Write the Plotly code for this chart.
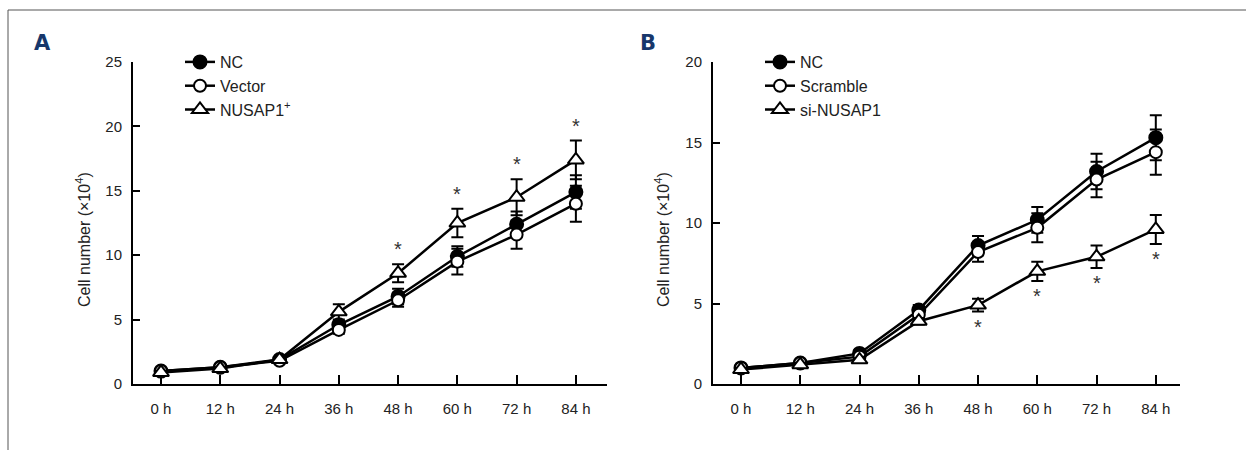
import plotly.graph_objects as go

hours = [0, 12, 24, 36, 48, 60, 72, 84]
tick_labels = ["0 h", "12 h", "24 h", "36 h", "48 h", "60 h", "72 h", "84 h"]

# Panel A
a_nc = [1.0, 1.3, 1.9, 4.6, 6.8, 9.9, 12.4, 14.9]
a_nc_err = [0.1, 0.1, 0.2, 0.3, 0.6, 0.8, 1.0, 1.3]
a_vec = [1.0, 1.3, 1.8, 4.2, 6.5, 9.5, 11.6, 14.0]
a_vec_err = [0.1, 0.1, 0.2, 0.3, 0.5, 1.0, 1.1, 1.4]
a_nus = [0.9, 1.2, 1.9, 5.6, 8.6, 12.5, 14.5, 17.4]
a_nus_err = [0.1, 0.1, 0.2, 0.6, 0.7, 1.1, 1.4, 1.5]
a_sig = [False, False, False, False, True, True, True, True]

# Panel B
b_nc = [1.0, 1.3, 1.9, 4.6, 8.6, 10.2, 13.2, 15.3]
b_nc_err = [0.1, 0.1, 0.2, 0.3, 0.6, 0.8, 1.1, 1.4]
b_scr = [1.0, 1.3, 1.7, 4.3, 8.2, 9.7, 12.7, 14.4]
b_scr_err = [0.1, 0.1, 0.2, 0.3, 0.6, 0.9, 1.1, 1.4]
b_si = [0.9, 1.2, 1.5, 3.9, 4.9, 7.0, 7.9, 9.6]
b_si_err = [0.1, 0.1, 0.1, 0.2, 0.4, 0.6, 0.7, 0.9]
b_sig = [False, False, False, False, True, True, True, True]

FONT = "Liberation Sans Narrow, Liberation Sans, Arial, sans-serif"
W, H = 1246, 450

fig = go.Figure()

def add_series(x, y, err, name, symbol, fill, xa, ya, legend, size=12):
    fig.add_trace(go.Scatter(
        x=x, y=y, name=name, mode="lines+markers",
        xaxis=xa, yaxis=ya, legend=legend,
        line=dict(color="black", width=2.5),
        marker=dict(symbol=symbol, size=size, color=fill,
                    line=dict(color="black", width=2)),
        error_y=dict(type="data", array=err, visible=True, color="black",
                     thickness=2, width=6),
    ))

add_series(hours, a_nc, a_nc_err, "NC", "circle", "black", "x", "y", "legend", 13)
add_series(hours, a_vec, a_vec_err, "Vector", "circle", "white", "x", "y", "legend", 12)
add_series(hours, a_nus, a_nus_err, "NUSAP1<sup>+</sup>", "triangle-up", "white", "x", "y", "legend", 14)

add_series(hours, b_nc, b_nc_err, "NC", "circle", "black", "x2", "y2", "legend2", 13)
add_series(hours, b_scr, b_scr_err, "Scramble", "circle", "white", "x2", "y2", "legend2", 12)
add_series(hours, b_si, b_si_err, "si-NUSAP1", "triangle-up", "white", "x2", "y2", "legend2", 14)

# significance stars
for h, v, e, s in zip(hours, a_nus, a_nus_err, a_sig):
    if s:
        fig.add_annotation(x=h, y=v + e, xref="x", yref="y", text="*", showarrow=False,
                           yanchor="bottom", yshift=2, font=dict(family=FONT, size=20, color="#333"))
for h, v, e, s in zip(hours, b_si, b_si_err, b_sig):
    if s:
        fig.add_annotation(x=h, y=v - e, xref="x2", yref="y2", text="*", showarrow=False,
                           yanchor="top", yshift=-2, font=dict(family=FONT, size=20, color="#333"))

yd = [(H - 384) / H, (H - 62) / H]
xa_common = dict(
    tickmode="array", tickvals=hours, ticktext=tick_labels,
    showline=True, linecolor="black", linewidth=2,
    ticks="inside", ticklen=9, tickwidth=2, tickcolor="black",
    showgrid=False, zeroline=False, automargin=False,
    tickfont=dict(family=FONT, size=15, color="#222"),
    ticklabelstandoff=10,
)
ya_common = dict(
    showline=True, linecolor="black", linewidth=2,
    ticks="inside", ticklen=7, tickwidth=2, tickcolor="black",
    showgrid=False, zeroline=False, automargin=False,
    tickfont=dict(family=FONT, size=15, color="#222"),
    ticklabelstandoff=6,
)

fig.update_layout(
    width=W, height=H,
    margin=dict(l=0, r=0, t=0, b=0, autoexpand=False),
    paper_bgcolor="white", plot_bgcolor="white",
    font=dict(family=FONT, color="#222"),
    xaxis=dict(domain=[133 / W, 607 / W], range=[-5.67, 90.3], anchor="y", **xa_common),
    yaxis=dict(domain=yd, range=[0, 25], tickvals=[0, 5, 10, 15, 20, 25], anchor="x", **ya_common),
    xaxis2=dict(domain=[713 / W, 1180 / W], range=[-5.67, 88.9], anchor="y2", **xa_common),
    yaxis2=dict(domain=yd, range=[0, 20], tickvals=[0, 5, 10, 15, 20], anchor="x2", **ya_common),
    legend=dict(x=180 / W, y=1 - 45 / H, xanchor="left", yanchor="top",
                bgcolor="rgba(0,0,0,0)", itemwidth=30, tracegroupgap=0,
                font=dict(family=FONT, size=16, color="#222")),
    legend2=dict(x=760 / W, y=1 - 45 / H, xanchor="left", yanchor="top",
                 bgcolor="rgba(0,0,0,0)", itemwidth=30, tracegroupgap=0,
                 font=dict(family=FONT, size=16, color="#222")),
    showlegend=True,
)

# y-axis titles
for xp in (83, 662):
    fig.add_annotation(x=xp / W, y=1 - 240 / H, xref="paper", yref="paper",
                       xanchor="center", yanchor="middle",
                       text="Cell number (×10<sup>4</sup>)", textangle=-90, showarrow=False,
                       font=dict(family=FONT, size=16, color="#222"))

# panel labels
for lbl, xp in (("A", 42), ("B", 648)):
    fig.add_annotation(x=xp / W, y=1 - 43 / H, xref="paper", yref="paper", text=f"<b>{lbl}</b>",
                       xanchor="center", yanchor="middle",
                       showarrow=False, font=dict(family="DejaVu Sans, Arial", size=21, color="#17376b"))

# frame lines (top and left border)
fig.add_shape(type="line", xref="paper", yref="paper", x0=8 / W, x1=1, y0=1 - 10 / H, y1=1 - 10 / H,
              line=dict(color="#555", width=1))
fig.add_shape(type="line", xref="paper", yref="paper", x0=8 / W, x1=8 / W, y0=0, y1=1 - 10 / H,
              line=dict(color="#555", width=1))

fig.write_html("out.html", config={"displayModeBar": False},
               post_script="document.body.style.margin='0';document.body.style.overflow='hidden';")
